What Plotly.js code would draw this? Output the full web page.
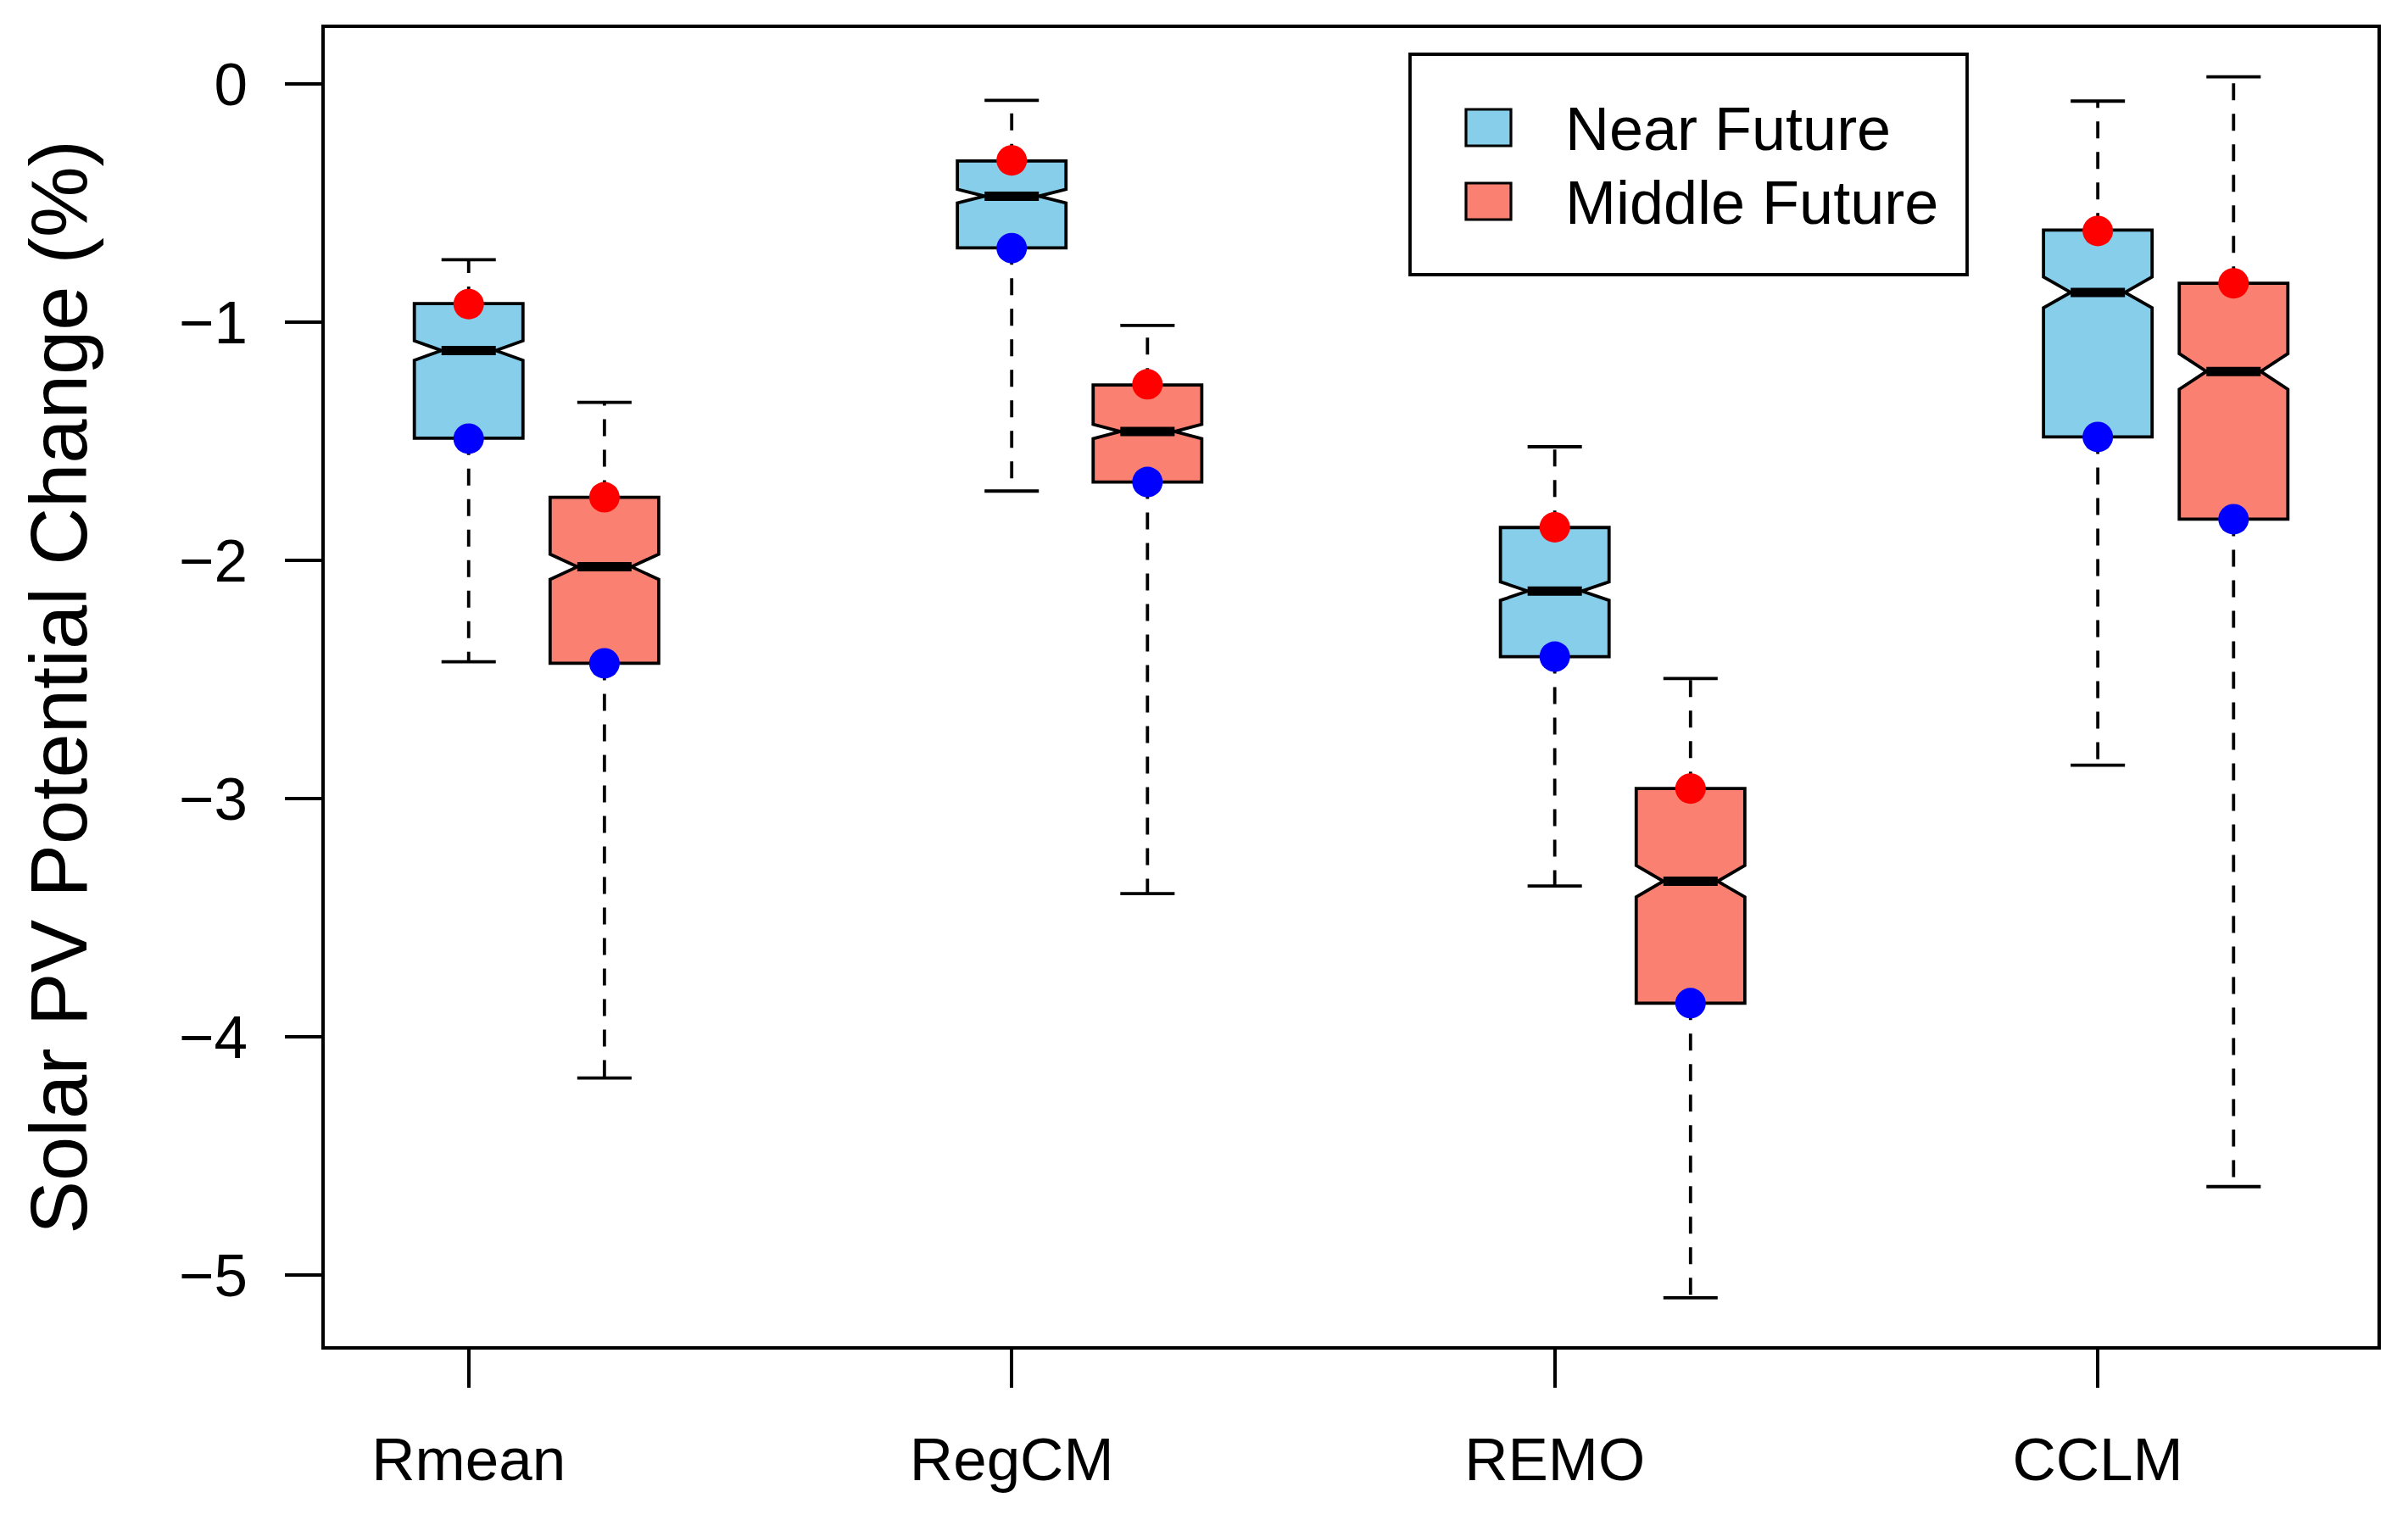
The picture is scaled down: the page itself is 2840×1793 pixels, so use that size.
<!DOCTYPE html>
<html>
<head>
<meta charset="utf-8">
<script src="https://cdn.plot.ly/plotly-3.0.1.min.js"></script>
<style>html,body{margin:0;padding:0;background:#fff;}</style>
</head>
<body>
<div id="chart" style="width:2840px;height:1793px;"></div>
<script>
// ---------------- data ----------------
const models = ['Rmean', 'RegCM', 'REMO', 'CCLM'];
const seriesNames = ['Near Future', 'Middle Future'];
const nearPos = [1, 5, 9, 13];
const midPos = [2, 6, 10, 14];

const nearUpperWhisker = [-0.739, -0.070, -1.524, -0.073];
const nearQ3           = [-0.923, -0.324, -1.863, -0.614];
const nearMedian       = [-1.120, -0.472, -2.130, -0.876];
const nearNotchSpan    = [0.041, 0.029, 0.039, 0.065];
const nearQ1           = [-1.488, -0.689, -2.405, -1.483];
const nearLowerWhisker = [-2.427, -1.710, -3.368, -2.861];
const nearRedDot       = [-0.925, -0.322, -1.862, -0.618];
const nearBlueDot      = [-1.490, -0.690, -2.405, -1.483];

const midUpperWhisker = [-1.338, -1.015, -2.497, 0.029];
const midQ3           = [-1.736, -1.265, -2.959, -0.838];
const midMedian       = [-2.028, -1.460, -3.348, -1.208];
const midNotchSpan    = [0.053, 0.030, 0.066, 0.075];
const midQ1           = [-2.433, -1.672, -3.860, -1.828];
const midLowerWhisker = [-4.174, -3.400, -5.097, -4.630];
const midRedDot       = [-1.736, -1.262, -2.959, -0.838];
const midBlueDot      = [-2.433, -1.672, -3.860, -1.828];

const yTickVals = [0, -1, -2, -3, -4, -5];
const yTitle = 'Solar PV Potential Change (%)';

// ---------------- styles ----------------
const FONT = 'Liberation Sans, Arial, Helvetica, sans-serif';
const fills = ['#87CEEB', '#FA8072'];
const BOX_W = 0.8, CAP_HALF = 0.2, MED_HALF = 0.2;
const LW = 3.8;

const W = 2840, H = 1793;
const M = {l: 383, r: 36, t: 33, b: 205};
const PW = W - M.l - M.r, PH = H - M.t - M.b;
const px2x = p => (p - M.l) / PW;
const px2y = p => (H - M.b - p) / PH;

function boxTrace(name, pos, q1, med, q3, lf, uf, ns, fill) {
  return {
    type: 'box', name: name, x: pos, q1: q1, median: med, q3: q3,
    lowerfence: lf, upperfence: uf, notchspan: ns,
    notched: true, notchwidth: 0.25, width: BOX_W,
    showwhiskers: false, boxpoints: false,
    fillcolor: fill, line: {color: '#000', width: LW},
    showlegend: false, hoverinfo: 'skip'
  };
}
function whiskerTrace(pos, q1, q3, lf, uf) {
  const x = [], y = [];
  pos.forEach((p, i) => {
    x.push(p, p, null, p, p, null);
    y.push(q3[i], uf[i], null, q1[i], lf[i], null);
  });
  return {type: 'scatter', mode: 'lines', x, y, showlegend: false, hoverinfo: 'skip',
          line: {color: '#000', width: LW, dash: '20px,16px'}};
}
function capTrace(pos, lf, uf) {
  const x = [], y = [];
  pos.forEach((p, i) => {
    x.push(p - CAP_HALF, p + CAP_HALF, null, p - CAP_HALF, p + CAP_HALF, null);
    y.push(uf[i], uf[i], null, lf[i], lf[i], null);
  });
  return {type: 'scatter', mode: 'lines', x, y, showlegend: false, hoverinfo: 'skip',
          line: {color: '#000', width: LW}};
}
function medianTrace(pos, med) {
  const x = [], y = [];
  pos.forEach((p, i) => { x.push(p - MED_HALF, p + MED_HALF, null); y.push(med[i], med[i], null); });
  return {type: 'scatter', mode: 'lines', x, y, showlegend: false, hoverinfo: 'skip',
          line: {color: '#000', width: 11}};
}
function dotTrace(pos, vals, color) {
  return {type: 'scatter', mode: 'markers', x: pos, y: vals, showlegend: false, hoverinfo: 'skip',
          marker: {color: color, size: 36, line: {width: 0}}};
}

const data = [
  boxTrace(seriesNames[0], nearPos, nearQ1, nearMedian, nearQ3, nearLowerWhisker, nearUpperWhisker, nearNotchSpan, fills[0]),
  boxTrace(seriesNames[1], midPos, midQ1, midMedian, midQ3, midLowerWhisker, midUpperWhisker, midNotchSpan, fills[1]),
  whiskerTrace(nearPos, nearQ1, nearQ3, nearLowerWhisker, nearUpperWhisker),
  whiskerTrace(midPos, midQ1, midQ3, midLowerWhisker, midUpperWhisker),
  capTrace(nearPos, nearLowerWhisker, nearUpperWhisker),
  capTrace(midPos, midLowerWhisker, midUpperWhisker),
  medianTrace(nearPos, nearMedian),
  medianTrace(midPos, midMedian),
  dotTrace(nearPos, nearRedDot, '#FF0000'),
  dotTrace(midPos, midRedDot, '#FF0000'),
  dotTrace(nearPos, nearBlueDot, '#0000FF'),
  dotTrace(midPos, midBlueDot, '#0000FF')
];

// manual legend (R-style)
const legendShapes = [
  {type: 'rect', xref: 'paper', yref: 'paper', x0: px2x(1663), x1: px2x(2320), y0: px2y(324), y1: px2y(64),
   line: {color: '#000', width: LW}, fillcolor: '#fff', layer: 'above'},
  {type: 'rect', xref: 'paper', yref: 'paper', x0: px2x(1729), x1: px2x(1782), y0: px2y(172), y1: px2y(129),
   line: {color: '#000', width: 3.2}, fillcolor: fills[0], layer: 'above'},
  {type: 'rect', xref: 'paper', yref: 'paper', x0: px2x(1729), x1: px2x(1782), y0: px2y(259), y1: px2y(216),
   line: {color: '#000', width: 3.2}, fillcolor: fills[1], layer: 'above'}
];
const legendAnn = [
  {xref: 'paper', yref: 'paper', x: px2x(1844), y: px2y(152), xanchor: 'left', yanchor: 'middle',
   text: seriesNames[0], showarrow: false, font: {family: FONT, size: 72, color: '#000'}},
  {xref: 'paper', yref: 'paper', x: px2x(1844), y: px2y(239), xanchor: 'left', yanchor: 'middle',
   text: seriesNames[1], showarrow: false, font: {family: FONT, size: 72, color: '#000'}}
];

const layout = {
  width: W, height: H,
  margin: M,
  paper_bgcolor: '#fff', plot_bgcolor: '#fff',
  font: {family: FONT, color: '#000'},
  showlegend: false,
  hovermode: false,
  boxmode: 'overlay',
  xaxis: {
    range: [-0.06, 15.06], tickmode: 'array', tickvals: nearPos, ticktext: models,
    ticks: 'outside', ticklen: 45, tickwidth: LW, tickcolor: '#000',
    ticklabelstandoff: 24,
    tickfont: {family: FONT, size: 71, color: '#000'},
    showline: true, mirror: true, linecolor: '#000', linewidth: LW,
    showgrid: false, zeroline: false, fixedrange: true
  },
  yaxis: {
    range: [-5.30, 0.234], tickmode: 'array', tickvals: yTickVals,
    ticks: 'outside', ticklen: 43, tickwidth: LW, tickcolor: '#000',
    ticklabelstandoff: 30,
    tickfont: {family: FONT, size: 71, color: '#000'},
    showline: true, mirror: true, linecolor: '#000', linewidth: LW,
    showgrid: false, zeroline: false, fixedrange: true,
    title: {text: yTitle, font: {family: FONT, size: 94, color: '#000'}, standoff: 78}
  },
  shapes: legendShapes,
  annotations: legendAnn
};

Plotly.newPlot('chart', data, layout, {staticPlot: true, displayModeBar: false});
</script>
</body>
</html>
